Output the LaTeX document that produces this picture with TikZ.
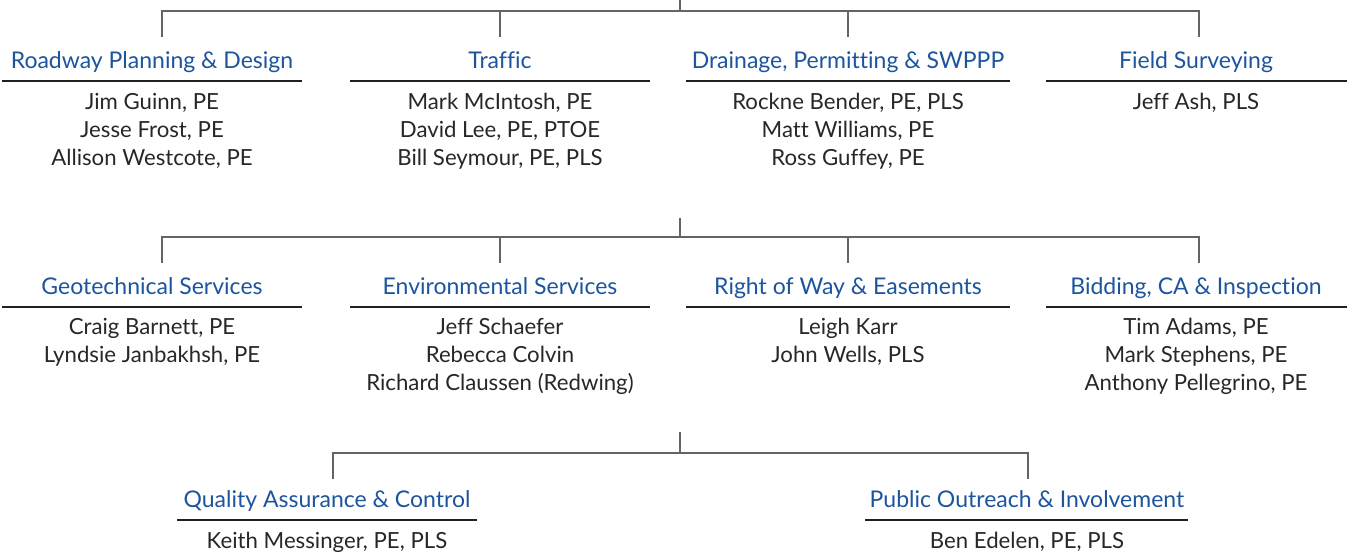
\documentclass[tikz,border=0pt]{standalone}
\usepackage{fontspec}
\setmainfont{Lato}[Ligatures=NoCommon]
\definecolor{titleblue}{RGB}{28,84,158}
\definecolor{nametext}{RGB}{40,38,40}
\definecolor{connc}{RGB}{100,100,104}
\definecolor{ulc}{RGB}{35,31,32}
\tikzset{
  conn/.style={draw=connc,line width=1.8pt},
  uline/.style={draw=ulc,line width=2pt},
  ttl/.style={anchor=base,inner sep=0pt,text=titleblue,font=\fontsize{23}{27}\selectfont},
  nm/.style={anchor=base,inner sep=0pt,text=nametext,font=\fontsize{22.2}{26}\selectfont},
}
\begin{document}
\begin{tikzpicture}[x=1pt,y=-1pt]
\useasboundingbox (0,0) rectangle (1347,552);
% ---------- Row 1 ----------
\coordinate (s1) at (680,0);
\coordinate (b1) at (680,11);
\coordinate (a11) at (162,37);
\coordinate (a12) at (500,37);
\coordinate (a13) at (848,37);
\coordinate (a14) at (1199,37);
\draw[conn] (a11) |- (b1) -| (a14);
\draw[conn] (s1) -- (b1);
\draw[conn] (b1 -| a12) -- (a12);
\draw[conn] (b1 -| a13) -- (a13);
\node[ttl] (t11) at (152,68) {Roadway Planning \& Design};
\node[ttl] (t12) at (500,68) {Traffic};
\node[ttl] (t13) at (848,68) {Drainage, Permitting \& SWPPP};
\node[ttl] (t14) at (1196,68) {Field Surveying};
\coordinate (u11l) at (2,81);   \coordinate (u11r) at (302,81);
\coordinate (u12l) at (350,81); \coordinate (u12r) at (650,81);
\coordinate (u13l) at (686,81); \coordinate (u13r) at (1010,81);
\coordinate (u14l) at (1046,81);\coordinate (u14r) at (1347,81);
\draw[uline] (u11l) -- (u11r);
\draw[uline] (u12l) -- (u12r);
\draw[uline] (u13l) -- (u13r);
\draw[uline] (u14l) -- (u14r);
\node[nm] (n111) at (152,109) {Jim Guinn, PE};
\node[nm] (n112) at (152,137) {Jesse Frost, PE};
\node[nm] (n113) at (152,165) {Allison Westcote, PE};
\node[nm] (n121) at (500,109) {Mark McIntosh, PE};
\node[nm] (n122) at (500,137) {David Lee, PE, PTOE};
\node[nm] (n123) at (500,165) {Bill Seymour, PE, PLS};
\node[nm] (n131) at (848,109) {Rockne Bender, PE, PLS};
\node[nm] (n132) at (848,137) {Matt Williams, PE};
\node[nm] (n133) at (848,165) {Ross Guffey, PE};
\node[nm] (n141) at (1196,109) {Jeff Ash, PLS};
% ---------- Row 2 ----------
\coordinate (s2) at (680,218);
\coordinate (b2) at (680,237);
\coordinate (a21) at (162,263);
\coordinate (a22) at (500,263);
\coordinate (a23) at (848,263);
\coordinate (a24) at (1199,263);
\draw[conn] (a21) |- (b2) -| (a24);
\draw[conn] (s2) -- (b2);
\draw[conn] (b2 -| a22) -- (a22);
\draw[conn] (b2 -| a23) -- (a23);
\node[ttl] (t21) at (152,294) {Geotechnical Services};
\node[ttl] (t22) at (500,294) {Environmental Services};
\node[ttl] (t23) at (848,294) {Right of Way \& Easements};
\node[ttl] (t24) at (1196,294) {Bidding, CA \& Inspection};
\coordinate (u21l) at (2,307);   \coordinate (u21r) at (302,307);
\coordinate (u22l) at (350,307); \coordinate (u22r) at (650,307);
\coordinate (u23l) at (686,307); \coordinate (u23r) at (1010,307);
\coordinate (u24l) at (1046,307);\coordinate (u24r) at (1347,307);
\draw[uline] (u21l) -- (u21r);
\draw[uline] (u22l) -- (u22r);
\draw[uline] (u23l) -- (u23r);
\draw[uline] (u24l) -- (u24r);
\node[nm] (n211) at (152,334) {Craig Barnett, PE};
\node[nm] (n212) at (152,362) {Lyndsie Janbakhsh, PE};
\node[nm] (n221) at (500,334) {Jeff Schaefer};
\node[nm] (n222) at (500,362) {Rebecca Colvin};
\node[nm] (n223) at (500,390) {Richard Claussen (Redwing)};
\node[nm] (n231) at (848,334) {Leigh Karr};
\node[nm] (n232) at (848,362) {John Wells, PLS};
\node[nm] (n241) at (1196,334) {Tim Adams, PE};
\node[nm] (n242) at (1196,362) {Mark Stephens, PE};
\node[nm] (n243) at (1196,390) {Anthony Pellegrino, PE};
% ---------- Row 3 ----------
\coordinate (s3) at (680,432);
\coordinate (b3) at (680,453);
\coordinate (a31) at (333,479);
\coordinate (a32) at (1028,479);
\draw[conn] (a31) |- (b3) -| (a32);
\draw[conn] (s3) -- (b3);
\node[ttl] (t31) at (327,507) {Quality Assurance \& Control};
\node[ttl] (t32) at (1027,507) {Public Outreach \& Involvement};
\coordinate (u31l) at (177,520); \coordinate (u31r) at (477,520);
\coordinate (u32l) at (865,520); \coordinate (u32r) at (1188,520);
\draw[uline] (u31l) -- (u31r);
\draw[uline] (u32l) -- (u32r);
\node[nm] (n311) at (327,548) {Keith Messinger, PE, PLS};
\node[nm] (n321) at (1027,548) {Ben Edelen, PE, PLS};
\end{tikzpicture}
\end{document}
